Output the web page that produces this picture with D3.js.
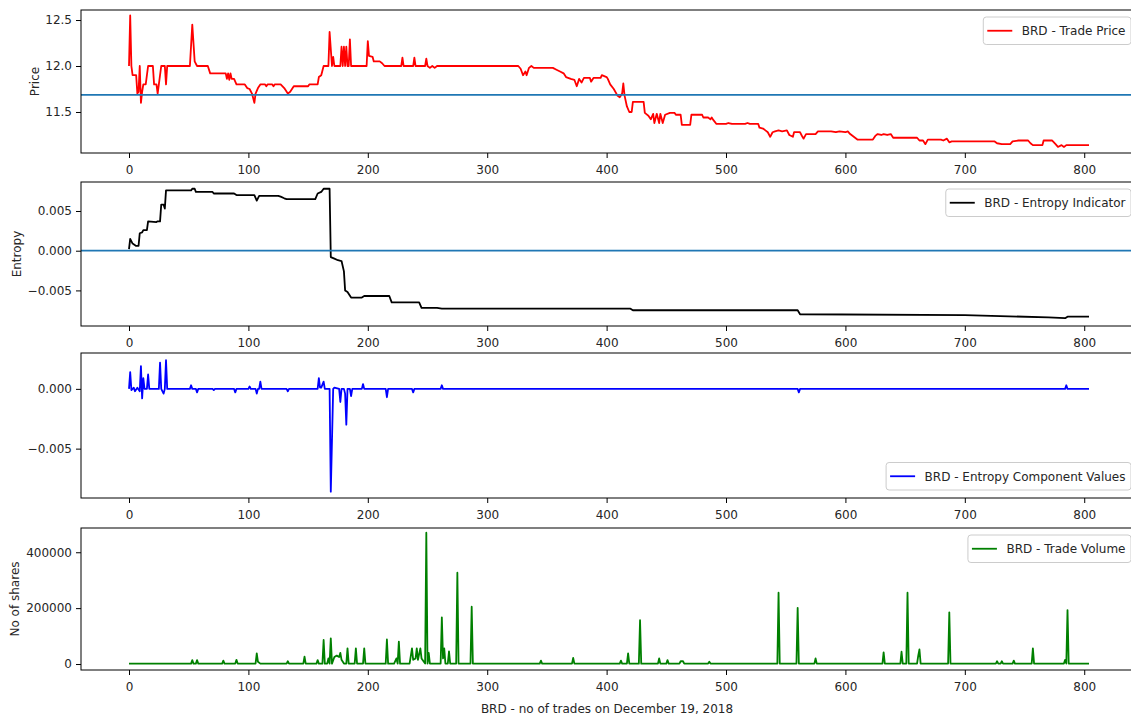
<!DOCTYPE html>
<html>
<head>
<meta charset="utf-8">
<script src="https://cdn.jsdelivr.net/npm/d3@7"></script>
<style>
  body { margin: 0; background: #fff; }
  svg text { font-family: "DejaVu Sans", sans-serif; fill: #262626; }
</style>
</head>
<body>
<div id="chart"></div>
<script>
// trade index, value pairs
let price = [[0,12.0],[1,12.55],[2,12.0],[3,11.9],[6,11.9],[7,11.7],[8,11.72],[9,12.0],[10,11.6],[11,11.72],[12,11.8],[14,11.8],[16,12.0],[20,12.0],[21,11.8],[23,11.8],[24,11.7],[25,11.8],[27,12.0],[30,12.0],[31,11.8],[32,12.0],[51,12.0],[53,12.45],[55,12.05],[57,12.0],[66,12.0],[68,11.92],[81,11.92],[82,11.86],[83,11.92],[84,11.85],[85,11.92],[86,11.86],[88,11.86],[90,11.8],[97,11.8],[99,11.76],[101,11.75],[103,11.7],[105,11.6],[106,11.7],[108,11.76],[110,11.8],[114,11.8],[115,11.78],[116,11.8],[120,11.8],[121,11.78],[122,11.8],[127,11.8],[130,11.76],[133,11.7],[135,11.72],[138,11.78],[150,11.78],[151,11.8],[158,11.8],[159,11.88],[161,11.9],[163,12.0],[167,12.0],[168,12.37],[170,12.0],[171,12.1],[172,12.0],[177,12.0],[178,12.21],[179,12.0],[180,12.21],[181,12.0],[182,12.21],[183,12.0],[184,12.0],[185,12.29],[186,12.0],[199,12.0],[200,12.27],[201,12.11],[204,12.1],[205,12.05],[210,12.05],[212,12.03],[214,12.0],[228,12.0],[229,12.09],[230,12.0],[238,12.0],[239,12.09],[240,12.0],[248,12.0],[249,12.08],[250,12.0],[252,11.98],[254,12.0],[256,11.98],[258,12.0],[326,12.0],[328,11.97],[330,11.9],[332,11.94],[333,11.9],[335,11.98],[337,12.0],[339,11.98],[355,11.98],[358,11.96],[361,11.94],[364,11.92],[366,11.88],[370,11.86],[373,11.85],[375,11.78],[377,11.86],[379,11.82],[381,11.87],[386,11.87],[387,11.83],[389,11.87],[395,11.87],[396,11.9],[400,11.88],[401,11.86],[403,11.8],[406,11.75],[409,11.68],[411,11.66],[413,11.7],[414,11.81],[415,11.68],[417,11.56],[419,11.5],[421,11.5],[422,11.61],[431,11.61],[432,11.49],[435,11.46],[437,11.42],[439,11.48],[440,11.38],[442,11.48],[444,11.38],[445,11.48],[447,11.38],[449,11.47],[453,11.49],[457,11.49],[458,11.47],[462,11.47],[463,11.36],[470,11.36],[471,11.47],[480,11.47],[481,11.44],[485,11.44],[487,11.42],[488,11.44],[489,11.42],[492,11.37],[500,11.37],[502,11.38],[505,11.37],[516,11.37],[518,11.38],[520,11.37],[527,11.37],[528,11.33],[531,11.32],[533,11.3],[535,11.28],[537,11.23],[539,11.28],[541,11.29],[544,11.3],[547,11.29],[551,11.3],[553,11.25],[556,11.23],[557,11.28],[562,11.28],[564,11.23],[565,11.21],[567,11.26],[575,11.26],[577,11.29],[588,11.29],[592,11.28],[595,11.29],[600,11.28],[602,11.29],[604,11.26],[607,11.23],[610,11.2],[623,11.2],[625,11.24],[627,11.26],[630,11.25],[632,11.26],[635,11.25],[638,11.26],[640,11.22],[660,11.22],[662,11.19],[665,11.19],[667,11.15],[669,11.2],[680,11.2],[682,11.19],[685,11.21],[687,11.17],[689,11.18],[725,11.18],[727,11.16],[731,11.15],[738,11.15],[740,11.18],[745,11.19],[753,11.19],[755,11.16],[757,11.14],[765,11.14],[766,11.19],[773,11.19],[776,11.15],[778,11.12],[781,11.14],[783,11.12],[785,11.14],[804,11.14]];
let priceMean = 11.685;

let entropy = [[0,0.0002],[1,0.0015],[3,0.0009],[6,0.0006],[8,0.0006],[9,0.0022],[11,0.0023],[12,0.0026],[15,0.0026],[16,0.0037],[23,0.0036],[24,0.0037],[26,0.0037],[27,0.0058],[29,0.0058],[30,0.0053],[31,0.0076],[52,0.0076],[53,0.0078],[55,0.0078],[56,0.0074],[70,0.0074],[71,0.0072],[88,0.0072],[90,0.0070],[105,0.0070],[107,0.0063],[109,0.0069],[125,0.0069],[127,0.0068],[130,0.0066],[132,0.0065],[156,0.0065],[158,0.0072],[161,0.0074],[163,0.0078],[168,0.0078],[169,-0.0008],[172,-0.001],[175,-0.0012],[178,-0.0013],[180,-0.0026],[181,-0.005],[183,-0.0052],[186,-0.0059],[195,-0.0059],[197,-0.0057],[218,-0.0057],[220,-0.0065],[243,-0.0065],[245,-0.0072],[258,-0.0072],[262,-0.0073],[420,-0.0073],[422,-0.0075],[560,-0.0075],[562,-0.008],[700,-0.0081],[770,-0.0084],[784,-0.0085],[786,-0.0083],[804,-0.0083]];

let component = [[0,0],[1,0.0014],[2,-0.0001],[4,0.0001],[5,-0.0002],[7,0.0001],[9,-0.0002],[10,0.0019],[11,-0.0008],[12,0.0009],[13,0],[15,0],[16,0.0012],[17,0],[25,0],[26,0.0022],[27,0],[29,-0.0004],[30,0],[31,0.0024],[32,0],[51,0],[52,0.0003],[53,0],[56,0],[57,-0.0003],[58,0],[70,0],[71,-0.0001],[72,0],[88,0],[89,-0.0003],[90,0],[100,0],[101,0.0002],[102,0],[106,0],[107,-0.0004],[108,0],[109,0],[110,0.0006],[111,0],[132,0],[133,-0.0002],[134,0],[158,0],[159,0.0009],[160,0.0001],[161,0.0001],[163,0.0006],[164,0],[168,0],[169,-0.0086],[171,0],[172,0.0001],[176,0],[177,-0.0011],[178,0],[180,0],[181,-0.0004],[182,-0.003],[183,0],[185,0],[186,-0.0006],[187,0],[195,0],[196,0.0004],[197,0],[215,0],[216,-0.0007],[217,0],[237,0],[238,-0.0003],[239,0],[261,0],[262,0.0003],[263,0],[560,0],[561,-0.0003],[562,0],[784,0],[785,0.0003],[786,0],[804,0]];

let volume = [[0,1500],[52,1500],[53,14000],[54,1500],[56,1500],[57,14000],[58,1500],[78,1500],[79,12000],[80,1500],[89,1500],[90,15000],[91,1500],[106,1500],[107,38000],[108,8000],[110,1500],[132,1500],[133,10000],[134,1500],[146,1500],[147,26000],[148,1500],[157,1500],[158,14000],[159,1500],[162,1500],[163,86000],[164,1500],[166,1500],[167,20000],[168,1500],[169,92000],[170,1500],[172,25000],[174,30000],[176,25000],[177,40000],[178,15000],[180,1500],[182,1500],[183,56000],[184,1500],[189,1500],[190,56000],[191,1500],[196,1500],[197,56000],[198,1500],[215,1500],[216,88000],[217,1500],[222,1500],[224,20000],[225,1500],[226,80000],[227,1500],[235,1500],[237,56000],[238,15000],[240,20000],[241,56000],[242,15000],[244,56000],[245,20000],[248,1500],[249,470000],[250,1500],[251,40000],[252,1500],[261,1500],[262,167000],[263,20000],[264,56000],[265,1500],[267,1500],[268,45000],[269,1500],[274,1500],[275,327000],[276,1500],[286,1500],[287,205000],[288,1500],[344,1500],[345,12000],[346,1500],[371,1500],[372,22000],[373,1500],[411,1500],[412,12000],[413,1500],[417,1500],[418,38000],[419,1500],[427,1500],[428,157000],[429,1500],[443,1500],[444,20000],[445,1500],[450,1500],[451,14000],[452,1500],[461,1500],[462,10000],[464,10000],[465,1500],[485,1500],[486,8000],[487,1500],[543,1500],[544,255000],[545,1500],[559,1500],[560,201000],[561,1500],[574,1500],[575,20000],[576,1500],[631,1500],[632,42000],[633,1500],[646,1500],[647,44000],[648,1500],[651,1500],[652,255000],[653,1500],[660,1500],[661,30000],[662,52000],[663,1500],[686,1500],[687,185000],[688,1500],[726,1500],[727,10000],[728,1500],[730,1500],[731,10000],[732,1500],[740,1500],[741,12000],[742,1500],[756,1500],[757,56000],[758,1500],[783,1500],[784,15000],[785,1500],[786,193000],[787,1500],[804,1500]];

let xTicks = [0, 100, 200, 300, 400, 500, 600, 700, 800];

let panels = [
  { data: price, color: "red", label: "BRD - Trade Price", ylabel: "Price", top: 10, bottom: 153,
    domain: [11.054, 12.609], ticks: [11.5, 12.0, 12.5], fmt: ".1f", hline: priceMean, legend: "top", ylabX: 35 },
  { data: entropy, color: "black", label: "BRD - Entropy Indicator", ylabel: "Entropy", top: 182, bottom: 326,
    domain: [-0.00948, 0.00865], ticks: [-0.005, 0, 0.005], fmt: ".3f", hline: 0, legend: "top", ylabX: 17 },
  { data: component, color: "blue", label: "BRD - Entropy Component Values", ylabel: "", top: 353, bottom: 498,
    domain: [-0.00913, 0.003], ticks: [-0.005, 0], fmt: ".3f", hline: null, legend: "bottom", ylabX: 17 },
  { data: volume, color: "green", label: "BRD - Trade Volume", ylabel: "No of shares", top: 528, bottom: 670,
    domain: [-21400, 486800], ticks: [0, 200000, 400000], fmt: "d", hline: null, legend: "top", ylabX: 15 }
];

let width = 1131, height = 719;
let left = 81, right = 1137;

let svg = d3.select("#chart").append("svg")
  .attr("width", width).attr("height", height);

let xScale = d3.scaleLinear().domain([-40.2, 844.2]).range([left, right]);

panels.forEach(function (p) {
  let yScale = d3.scaleLinear().domain(p.domain).range([p.bottom, p.top]);
  let g = svg.append("g");

  let line = d3.line()
    .x(function (d) { return xScale(d[0]); })
    .y(function (d) { return yScale(d[1]); });

  g.append("path")
    .datum(p.data)
    .attr("d", line)
    .attr("fill", "none")
    .attr("stroke", p.color)
    .attr("stroke-width", 1.8)
    .attr("stroke-linejoin", "round");

  if (p.hline !== null) {
    g.append("line")
      .attr("x1", left).attr("x2", right)
      .attr("y1", yScale(p.hline)).attr("y2", yScale(p.hline))
      .attr("stroke", "#1f77b4").attr("stroke-width", 1.8);
  }

  // frame
  g.append("rect")
    .attr("x", left).attr("y", p.top)
    .attr("width", right - left).attr("height", p.bottom - p.top)
    .attr("fill", "none").attr("stroke", "black").attr("stroke-width", 1);

  let xAxis = g.append("g")
    .attr("transform", "translate(0," + p.bottom + ")")
    .call(d3.axisBottom(xScale).tickValues(xTicks).tickSize(5).tickPadding(7));
  let yAxis = g.append("g")
    .attr("transform", "translate(" + left + ",0)")
    .call(d3.axisLeft(yScale).tickValues(p.ticks).tickFormat(d3.format(p.fmt)).tickSize(5).tickPadding(4));

  [xAxis, yAxis].forEach(function (a) {
    a.select(".domain").remove();
    a.selectAll("line").attr("stroke", "black");
    a.selectAll("text").attr("font-size", 12).attr("font-family", "DejaVu Sans").attr("fill", "#262626");
  });

  if (p.ylabel) {
    let cy = (p.top + p.bottom) / 2;
    g.append("text")
      .attr("transform", "translate(" + p.ylabX + "," + cy + ")rotate(-90)")
      .attr("text-anchor", "middle")
      .attr("dy", "0.35em")
      .attr("font-size", 12)
      .text(p.ylabel);
  }

  // legend
  let lg = g.append("g");
  let box = lg.append("rect");
  let txt = lg.append("text").attr("font-size", 12).text(p.label);
  let tw = txt.node().getComputedTextLength();
  let bw = tw + 44, bh = 27.5;
  let bx = right - 6 - bw;
  let by = p.legend === "top" ? p.top + 7 : p.bottom - 8 - bh;
  box.attr("x", bx).attr("y", by).attr("width", bw).attr("height", bh)
    .attr("rx", 3).attr("fill", "white").attr("fill-opacity", 0.8)
    .attr("stroke", "#cccccc").attr("stroke-width", 1);
  lg.append("line")
    .attr("x1", bx + 4).attr("x2", bx + 29)
    .attr("y1", by + bh / 2).attr("y2", by + bh / 2)
    .attr("stroke", p.color).attr("stroke-width", 1.8);
  txt.attr("x", bx + 38.5).attr("y", by + bh / 2).attr("dy", "0.36em");
});

svg.append("text")
  .attr("x", (left + right) / 2 - 2).attr("y", 713)
  .attr("text-anchor", "middle")
  .attr("font-size", 12)
  .text("BRD - no of trades on December 19, 2018");
</script>
</body>
</html>
